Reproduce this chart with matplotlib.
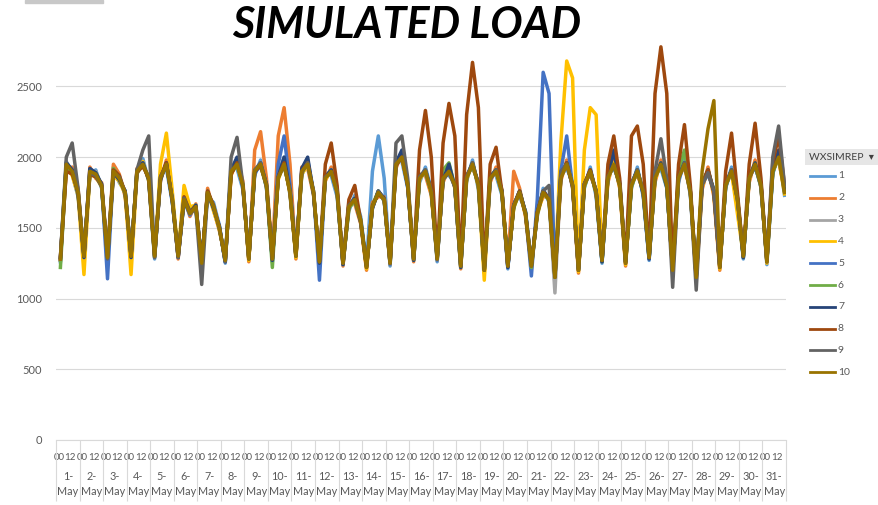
import numpy as np
import matplotlib
matplotlib.use("Agg")
import matplotlib.pyplot as plt
from matplotlib.lines import Line2D
from matplotlib.patches import Rectangle

plt.rcParams['font.family'] = ['Lato', 'DejaVu Sans']

# hourly simulated load, May 1-31, read at 4 hours of each day
days = [f"{d}-\nMay" for d in range(1, 32)]
sample_hours = [4, 10, 16, 22]
hour_labels = ["00", "12"]
yticks = [0, 500, 1000, 1500, 2000, 2500]

s1 = [1260, 1920, 1880, 1720, 1320, 1870, 1910, 1780, 1250, 1930, 1820, 1760, 1310, 1880, 1990, 1830,
      1280, 1880, 1920, 1680, 1320, 1680, 1630, 1620, 1270, 1720, 1680, 1520, 1250, 1930, 1920, 1770,
      1300, 1870, 1980, 1780, 1260, 1880, 2000, 1730, 1320, 1870, 1980, 1760, 1240, 1880, 1870, 1720,
      1270, 1620, 1730, 1580, 1240, 1900, 2150, 1850, 1230, 1980, 1970, 1780, 1300, 1820, 1930, 1770,
      1260, 1880, 1870, 1820, 1250, 1830, 1980, 1770, 1220, 1880, 1870, 1730, 1210, 1680, 1720, 1620,
      1250, 1580, 1780, 1680, 1170, 1870, 1920, 1820, 1220, 1780, 1930, 1720, 1250, 1880, 1920, 1830,
      1270, 1780, 1930, 1720, 1270, 1880, 1920, 1780, 1220, 1820, 1980, 1730, 1170, 1830, 1870, 1780,
      1240, 1780, 1930, 1680, 1280, 1880, 1920, 1820, 1240, 1880, 2030, 1730]
s2 = [1300, 1900, 1930, 1780, 1280, 1930, 1850, 1820, 1310, 1950, 1880, 1720, 1280, 1920, 1930, 1870,
      1320, 1830, 1980, 1720, 1280, 1720, 1580, 1670, 1230, 1780, 1630, 1480, 1290, 1870, 1980, 1830,
      1260, 2050, 2180, 1850, 1300, 2150, 2350, 1950, 1280, 1930, 1920, 1730, 1280, 1830, 1930, 1780,
      1230, 1680, 1670, 1530, 1200, 1680, 1720, 1720, 1270, 1920, 2030, 1820, 1260, 1880, 1870, 1730,
      1300, 1820, 1930, 1780, 1210, 1880, 1920, 1830, 1180, 1820, 1930, 1770, 1250, 1900, 1780, 1580,
      1210, 1620, 1720, 1720, 1130, 1830, 1980, 1780, 1180, 1830, 1870, 1770, 1290, 1820, 1980, 1780,
      1230, 1830, 1870, 1770, 1310, 1820, 1980, 1820, 1180, 1880, 1920, 1770, 1130, 1770, 1930, 1720,
      1200, 1830, 1870, 1720, 1320, 1820, 1980, 1780, 1280, 1930, 1970, 1770]
s3 = [1290, 1970, 1890, 1760, 1290, 1890, 1900, 1790, 1300, 1880, 1860, 1740, 1290, 1910, 1940, 1860,
      1310, 1860, 1940, 1710, 1290, 1710, 1610, 1640, 1260, 1740, 1660, 1510, 1260, 1910, 1940, 1810,
      1290, 1890, 1960, 1790, 1270, 1860, 1940, 1760, 1310, 1890, 1960, 1740, 1250, 1860, 1890, 1760,
      1260, 1660, 1690, 1560, 1230, 1640, 1760, 1690, 1260, 1940, 2010, 1790, 1270, 1860, 1890, 1760,
      1290, 1840, 1910, 1790, 1220, 1860, 1940, 1810, 1210, 1840, 1910, 1740, 1220, 1660, 1740, 1610,
      1220, 1610, 1760, 1690, 1040, 1860, 1940, 1810, 1210, 1790, 1910, 1740, 1260, 1860, 1940, 1810,
      1260, 1790, 1910, 1740, 1280, 1860, 1940, 1790, 1210, 1840, 1960, 1740, 1160, 1810, 1890, 1760,
      1230, 1790, 1910, 1710, 1290, 1860, 1940, 1790, 1270, 1890, 2010, 1760]
s4 = [1270, 1930, 1870, 1730, 1170, 1880, 1860, 1790, 1280, 1870, 1830, 1740, 1170, 1880, 1970, 1830,
      1290, 1950, 2170, 1760, 1310, 1800, 1650, 1660, 1240, 1760, 1620, 1490, 1280, 1880, 1960, 1790,
      1270, 1910, 1930, 1810, 1290, 1840, 1960, 1740, 1290, 1880, 1940, 1760, 1270, 1840, 1910, 1740,
      1240, 1640, 1710, 1540, 1210, 1660, 1740, 1710, 1240, 1960, 1990, 1810, 1290, 1840, 1910, 1740,
      1270, 1860, 1890, 1810, 1240, 1840, 1960, 1790, 1130, 1860, 1890, 1760, 1240, 1640, 1760, 1590,
      1240, 1590, 1740, 1710, 1160, 2100, 2680, 2560, 1190, 2050, 2350, 2300, 1280, 1840, 1960, 1790,
      1240, 1810, 1890, 1760, 1300, 1840, 1960, 1810, 1190, 1860, 1940, 1760, 1140, 1790, 1910, 1740,
      1210, 1810, 1890, 1600, 1310, 1840, 1960, 1810, 1250, 1910, 1990, 1740]
s5 = [1270, 1960, 1910, 1740, 1310, 1910, 1870, 1810, 1140, 1910, 1840, 1760, 1310, 1890, 1960, 1840,
      1290, 1840, 1960, 1690, 1290, 1690, 1590, 1660, 1260, 1740, 1640, 1510, 1260, 1910, 1960, 1790,
      1290, 1890, 1940, 1810, 1270, 1950, 2150, 1800, 1310, 1910, 1940, 1760, 1130, 1860, 1910, 1740,
      1240, 1660, 1690, 1560, 1230, 1640, 1760, 1690, 1240, 1940, 2010, 1790, 1290, 1860, 1890, 1760,
      1270, 1860, 1910, 1790, 1240, 1860, 1940, 1810, 1210, 1840, 1910, 1760, 1220, 1660, 1760, 1610,
      1160, 1700, 2600, 2450, 1160, 1900, 2150, 1790, 1210, 1810, 1890, 1760, 1260, 1860, 1940, 1810,
      1260, 1810, 1910, 1740, 1280, 1860, 1940, 1790, 1210, 1840, 1960, 1760, 1160, 1810, 1890, 1760,
      1230, 1790, 1910, 1710, 1290, 1860, 1940, 1790, 1270, 1890, 2010, 1760]
s6 = [1220, 1940, 1890, 1760, 1300, 1880, 1890, 1790, 1290, 1920, 1860, 1740, 1310, 1890, 1940, 1860,
      1300, 1860, 1940, 1710, 1310, 1710, 1620, 1640, 1250, 1750, 1660, 1490, 1280, 1890, 1940, 1810,
      1280, 1910, 1940, 1790, 1220, 1860, 1940, 1760, 1300, 1890, 1960, 1740, 1270, 1860, 1890, 1760,
      1250, 1640, 1690, 1560, 1220, 1660, 1760, 1690, 1260, 1940, 2010, 1800, 1270, 1860, 1890, 1760,
      1290, 1910, 1960, 1790, 1220, 1860, 1940, 1810, 1200, 1860, 1910, 1740, 1240, 1640, 1760, 1610,
      1220, 1600, 1760, 1690, 1150, 1860, 1960, 1810, 1200, 1790, 1910, 1740, 1260, 1860, 1940, 1810,
      1260, 1790, 1910, 1760, 1290, 1860, 1940, 1790, 1210, 1900, 2050, 1760, 1160, 1810, 1910, 1760,
      1230, 1790, 1910, 1710, 1290, 1860, 1940, 1790, 1270, 1890, 2010, 1760]
s7 = [1290, 1960, 1910, 1740, 1290, 1920, 1890, 1810, 1300, 1890, 1840, 1760, 1290, 1910, 1960, 1840,
      1310, 1840, 1960, 1690, 1290, 1690, 1610, 1660, 1260, 1760, 1640, 1510, 1260, 1910, 2000, 1790,
      1290, 1890, 1960, 1810, 1270, 1860, 2000, 1760, 1310, 1920, 2000, 1740, 1250, 1860, 1910, 1760,
      1240, 1660, 1710, 1540, 1230, 1640, 1760, 1710, 1260, 1960, 2050, 1790, 1270, 1860, 1910, 1760,
      1290, 1840, 1950, 1790, 1220, 1860, 1960, 1810, 1210, 1860, 1910, 1760, 1220, 1660, 1760, 1610,
      1240, 1610, 1760, 1710, 1160, 1860, 1960, 1790, 1210, 1810, 1910, 1760, 1260, 1860, 2050, 1810,
      1260, 1810, 1910, 1740, 1280, 1860, 1960, 1790, 1210, 1860, 1960, 1760, 1160, 1810, 1910, 1760,
      1230, 1810, 1910, 1710, 1290, 1860, 1960, 1810, 1270, 1910, 2050, 1760]
s8 = [1280, 1900, 1880, 1760, 1300, 1880, 1860, 1800, 1290, 1910, 1870, 1750, 1300, 1890, 1940, 1850,
      1300, 1860, 1960, 1700, 1300, 1720, 1610, 1650, 1250, 1760, 1660, 1500, 1270, 1880, 1960, 1800,
      1280, 1900, 1940, 1800, 1280, 1860, 1960, 1750, 1300, 1900, 1960, 1750, 1260, 1950, 2100, 1800,
      1250, 1700, 1800, 1550, 1220, 1660, 1740, 1700, 1250, 1940, 2000, 1800, 1280, 2050, 2330, 2000,
      1280, 2100, 2380, 2150, 1230, 2300, 2670, 2350, 1200, 1950, 2070, 1750, 1230, 1660, 1760, 1600,
      1230, 1610, 1760, 1700, 1150, 1860, 1960, 1800, 1200, 1810, 1910, 1750, 1270, 1950, 2150, 1850,
      1250, 2150, 2220, 1950, 1290, 2450, 2780, 2450, 1200, 1950, 2230, 1800, 1150, 1810, 1910, 1750,
      1220, 1900, 2170, 1750, 1300, 1950, 2240, 1850, 1260, 1960, 2150, 1800]
s9 = [1290, 2000, 2100, 1780, 1300, 1890, 1870, 1790, 1280, 1890, 1860, 1740, 1300, 1910, 2050, 2150,
      1290, 1860, 1940, 1710, 1290, 1710, 1600, 1640, 1100, 1740, 1650, 1500, 1260, 2000, 2140, 1800,
      1280, 1910, 1960, 1790, 1280, 1860, 1940, 1760, 1300, 1890, 1960, 1740, 1260, 1860, 1890, 1760,
      1250, 1660, 1700, 1540, 1230, 1640, 1760, 1700, 1250, 2100, 2150, 1850, 1280, 1860, 1910, 1760,
      1280, 1840, 1890, 1790, 1230, 1860, 1960, 1800, 1200, 1840, 1910, 1750, 1230, 1660, 1750, 1600,
      1230, 1600, 1760, 1800, 1150, 1900, 1950, 1800, 1200, 1810, 1890, 1760, 1270, 1860, 1940, 1800,
      1250, 1810, 1910, 1760, 1290, 1900, 2130, 1850, 1080, 1850, 1960, 1750, 1060, 1800, 1890, 1760,
      1220, 1800, 1910, 1700, 1300, 1850, 1940, 1800, 1260, 2000, 2220, 1800]
s10 = [1280, 1950, 1900, 1750, 1300, 1900, 1880, 1800, 1290, 1900, 1850, 1750, 1300, 1900, 1950, 1850,
       1300, 1850, 1950, 1700, 1300, 1700, 1600, 1650, 1250, 1750, 1650, 1500, 1270, 1900, 1950, 1800,
       1280, 1900, 1950, 1800, 1280, 1850, 1950, 1750, 1300, 1900, 1950, 1750, 1260, 1850, 1900, 1750,
       1250, 1650, 1700, 1550, 1220, 1650, 1750, 1700, 1250, 1950, 2000, 1800, 1280, 1850, 1900, 1750,
       1280, 1850, 1900, 1800, 1230, 1850, 1950, 1800, 1200, 1850, 1900, 1750, 1230, 1650, 1750, 1600,
       1230, 1600, 1750, 1700, 1150, 1850, 1950, 1800, 1200, 1800, 1900, 1750, 1270, 1850, 1950, 1800,
       1250, 1800, 1900, 1750, 1290, 1850, 1950, 1800, 1200, 1850, 1950, 1750, 1150, 1900, 2200, 2400,
       1220, 1800, 1900, 1700, 1300, 1850, 1950, 1800, 1260, 1900, 2000, 1750]

series = [s1, s2, s3, s4, s5, s6, s7, s8, s9, s10]
names = [str(i) for i in range(1, 11)]
colors = ['#5B9BD5', '#ED7D31', '#A5A5A5', '#FFC000', '#4472C4',
          '#70AD47', '#264478', '#9E480E', '#636363', '#997300']

fig = plt.figure(figsize=(8.79, 5.05), dpi=100)
ax = fig.add_axes([56 / 879, 1 - 440 / 505, 730 / 879, 396 / 505])

n_days = len(days)
x = (np.arange(n_days)[:, None] * 24 + np.array(sample_hours)[None, :] + 0.5).ravel()

for vals, c, name in zip(series, colors, names):
    ax.plot(x, vals, color=c, lw=2.5, label=name, solid_joinstyle='round')

ax.set_xlim(0, n_days * 24)
ax.set_ylim(0, 2800)
ax.set_yticks(yticks)
ax.set_yticklabels([str(v) for v in yticks])
ax.grid(axis='y', color='#d9d9d9', lw=0.8)
ax.set_axisbelow(True)
for sp in ['top', 'right', 'left']:
    ax.spines[sp].set_visible(False)
ax.spines['bottom'].set_color('#d9d9d9')
ax.tick_params(axis='y', length=0, pad=10, labelsize=8, labelcolor='#595959')

# hour labels (00, 12) and day group separators
hx = [d * 24 + h for d in range(n_days) for h in (3, 14.5)]
ax.set_xticks(hx)
ax.set_xticklabels(hour_labels * n_days)
ax.tick_params(axis='x', which='major', length=0, pad=9, labelsize=7, labelcolor='#595959')
ax.set_xticks(np.arange(0, n_days * 24 + 1, 24), minor=True)
ax.tick_params(axis='x', which='minor', length=44, width=0.8, color='#d9d9d9', direction='out')

trans = ax.get_xaxis_transform()
for i, lab in enumerate(days):
    ax.text(i * 24 + 12, -0.078, lab, transform=trans, ha='center', va='top',
            fontsize=7.8, color='#595959', linespacing=1.5)

# title
fig.text(0.463, 0.95, 'SIMULATED LOAD', ha='center', va='center', fontsize=31,
         fontweight='bold', style='italic', color='black')

# legend drawn by hand, Excel style
fig.text(809 / 879, 1 - 157 / 505, 'WXSIMREP  \u25be', ha='left', va='center', fontsize=7.5,
         color='#404040',
         bbox=dict(boxstyle='square,pad=0.35', fc='#e6e6e6', ec='none'))
for i, (c, name) in enumerate(zip(colors, names)):
    y = 1 - (176 + i * 21.8) / 505
    fig.add_artist(Line2D([810 / 879, 835 / 879], [y, y], color=c, lw=2,
                          transform=fig.transFigure))
    fig.text(838 / 879, y, name, ha='left', va='center', fontsize=7.5, color='#595959')

# bits of the surrounding slide frame
fig.add_artist(Rectangle((25 / 879, 1 - 3 / 505), 78 / 879, 3 / 505, color='#c8c8c8',
                         transform=fig.transFigure))

fig.savefig('out.png', dpi=100)
